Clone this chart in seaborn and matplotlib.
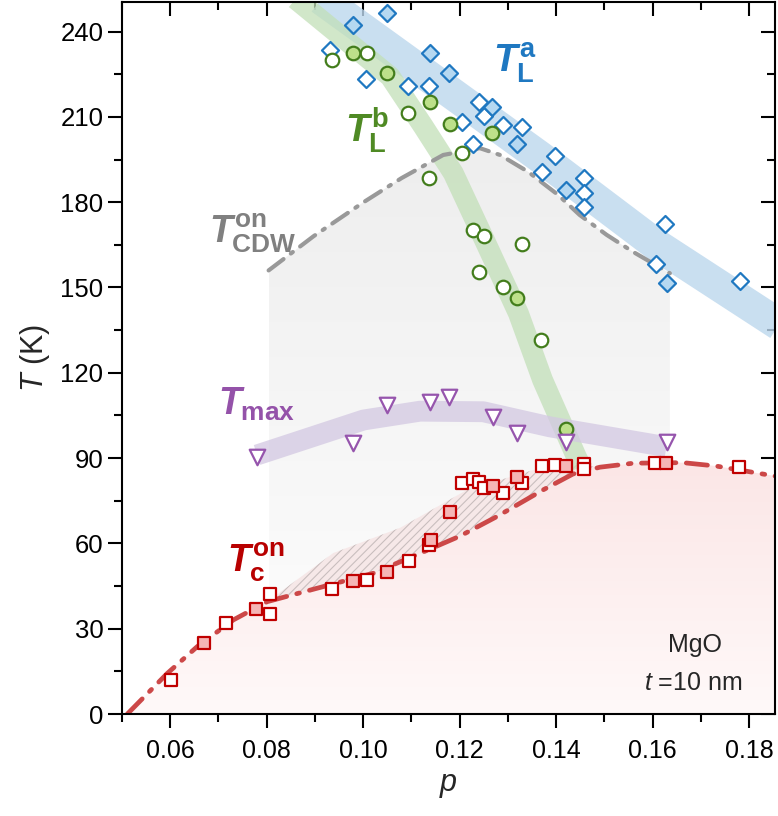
import matplotlib
matplotlib.use('Agg')

import numpy as np
import pandas as pd
import seaborn as sns
import matplotlib.pyplot as plt
from matplotlib.colors import LinearSegmentedColormap
from matplotlib.patches import Polygon
from matplotlib.ticker import MultipleLocator

# --- values ---
# T_L^a (blue diamonds), filled = 1
tla_p = [0.1049, 0.0979, 0.0932, 0.1139, 0.1006, 0.1179, 0.1094, 0.1137, 0.1241,
         0.1268, 0.1251, 0.1204, 0.1290, 0.1329, 0.1320, 0.1227, 0.1398, 0.1370,
         0.1458, 0.1420, 0.1458, 0.1458, 0.1625, 0.1607, 0.1630, 0.1781]
tla_T = [246.5, 242.3, 233.6, 232.4, 223.4, 225.6, 220.9, 220.9, 215.4,
         213.6, 210.3, 208.3, 207.2, 206.6, 200.5, 200.5, 196.3, 190.5,
         188.4, 184.3, 183.2, 178.2, 172.2, 158.3, 151.5, 152.3]
tla_filled = [1, 1, 0, 1, 0, 1, 0, 0, 0,
              1, 0, 0, 0, 0, 1, 0, 0, 0,
              0, 1, 0, 0, 0, 0, 1, 0]

# T_L^b (green circles)
tlb_p = [0.0935, 0.0979, 0.1008, 0.1049, 0.1139, 0.1094, 0.1180, 0.1268, 0.1204,
         0.1137, 0.1227, 0.1251, 0.1329, 0.1240, 0.1289, 0.1320, 0.1369, 0.1420]
tlb_T = [230.0, 232.6, 232.4, 225.3, 215.4, 211.3, 207.5, 204.3, 197.2,
         188.4, 170.1, 168.2, 165.3, 155.4, 150.3, 146.2, 131.5, 100.1]
tlb_filled = [0, 1, 0, 1, 1, 0, 1, 1, 0,
              0, 0, 0, 0, 0, 0, 1, 0, 1]

# T_max (purple triangles)
tmax_p = [0.0780, 0.0979, 0.1049, 0.1139, 0.1179, 0.1270, 0.1319, 0.1420, 0.1631]
tmax_T = [90.5, 95.4, 108.7, 109.9, 111.6, 104.6, 98.7, 95.8, 95.8]

# T_c^on (red squares)
tc_p = [0.0602, 0.0669, 0.0716, 0.0778, 0.0806, 0.0806, 0.0935, 0.0980, 0.1008,
        0.1049, 0.1095, 0.1137, 0.1140, 0.1180, 0.1204, 0.1228, 0.1241, 0.1250,
        0.1270, 0.1289, 0.1319, 0.1329, 0.1370, 0.1398, 0.1420, 0.1458, 0.1458,
        0.1605, 0.1629, 0.1779]
tc_T = [12.0, 25.1, 32.1, 36.9, 42.2, 35.2, 44.0, 46.9, 47.1,
        50.1, 53.9, 59.5, 61.3, 71.2, 81.4, 82.6, 81.7, 79.4,
        80.2, 77.8, 83.3, 81.4, 87.2, 87.6, 87.2, 87.9, 86.1,
        88.4, 88.2, 86.8]
tc_filled = [0, 1, 0, 1, 0, 0, 0, 1, 0,
             1, 0, 0, 1, 1, 0, 0, 0, 0,
             1, 0, 1, 0, 0, 0, 1, 0, 0,
             0, 1, 0]

# guide lines
cdw_p = [0.0804, 0.0897, 0.1001, 0.1080, 0.1166, 0.1242, 0.1284, 0.1342, 0.1404,
         0.1449, 0.1505, 0.1559, 0.1636]
cdw_T = [156.0, 168.0, 180.0, 188.5, 196.6, 199.0, 196.6, 190.7, 182.6,
         175.5, 168.5, 162.6, 155.0]

tcl_p = [0.0511, 0.0594, 0.0656, 0.0731, 0.0801, 0.0904, 0.1021, 0.1118, 0.1200,
         0.1277, 0.1373, 0.1435, 0.1491, 0.1560, 0.1663, 0.1732, 0.1860]
tcl_T = [0.0, 14.3, 23.7, 33.1, 39.5, 44.2, 49.5, 56.5, 62.5,
         69.4, 78.8, 84.4, 86.8, 88.2, 88.4, 87.2, 83.5]

hatch_p = [0.0801, 0.0938, 0.1077, 0.1215, 0.1353, 0.1449, 0.1491]
hatch_T = [39.5, 56.6, 65.5, 78.8, 85.8, 87.6, 86.8]

# broad bands
band_a_p = [0.0880, 0.0917, 0.1366, 0.1608, 0.1880]
band_a_T = [256.0, 251.0, 196.0, 165.0, 135.0]
band_b_p = [0.0820, 0.0863, 0.1056, 0.1125, 0.1187, 0.1242, 0.1322, 0.1372, 0.1442, 0.1452]
band_b_T = [257.0, 251.0, 224.2, 206.6, 190.2, 170.2, 140.9, 117.5, 90.5, 87.0]
band_m_p = [0.0780, 0.1001, 0.1118, 0.1249, 0.1387, 0.1629]
band_m_T = [91.1, 103.4, 106.5, 106.3, 101.0, 94.0]

# --- style ---
sns.set_style('ticks')
plt.rcParams['font.family'] = ['Liberation Sans', 'DejaVu Sans']
plt.rcParams['mathtext.fontset'] = 'custom'
plt.rcParams['mathtext.it'] = 'Liberation Sans:italic:bold'
plt.rcParams['mathtext.rm'] = 'Liberation Sans:bold'
plt.rcParams['mathtext.bf'] = 'Liberation Sans:bold'
plt.rcParams['mathtext.sf'] = 'Liberation Sans:italic'
plt.rcParams['hatch.linewidth'] = 0.8

fig = plt.figure(figsize=(7.78, 8.16), dpi=100)
ax = fig.add_axes([122 / 778, 102 / 816, 653 / 778, 712 / 816])


def gradient_fill(xs, ys, c_top, c_bot, z):
    poly = Polygon(np.column_stack([xs, ys]), closed=True, facecolor='none', edgecolor='none')
    ax.add_patch(poly)
    cmap = LinearSegmentedColormap.from_list('g', [c_bot, c_top])
    grad = np.linspace(0, 1, 256).reshape(-1, 1)
    im = ax.imshow(grad, extent=[min(xs), max(xs), min(ys), max(ys)], origin='lower',
                   aspect='auto', cmap=cmap, zorder=z, interpolation='bilinear')
    im.set_clip_path(poly)


# gray CDW region, down to the Tc line
seg = [(p, t) for p, t in zip(tcl_p, tcl_T) if 0.0804 <= p <= 0.1636]
gx = cdw_p + [0.1636] + [p for p, _ in seg[::-1]] + [0.0804]
gy = cdw_T + [88.4] + [t for _, t in seg[::-1]] + [39.6]
gradient_fill(gx, gy, '#eeeeee', '#fbfbfb', 0.5)

# pink region below Tc line
px = tcl_p + [0.1860, 0.0511]
py = tcl_T + [0.0, 0.0]
gradient_fill(px, py, '#fbe6e6', '#fff9f9', 0.6)

# hatched region
seg2 = [(p, t) for p, t in zip(tcl_p, tcl_T) if 0.0801 <= p <= 0.1491]
hx = hatch_p + [p for p, _ in seg2[::-1]]
hy = hatch_T + [t for _, t in seg2[::-1]]
ax.add_patch(Polygon(np.column_stack([hx, hy]), closed=True, facecolor='#f6e8e8',
                     edgecolor='#c9bebe', hatch='////', linewidth=0, zorder=0.7))

# bands
ax.plot(band_a_p, band_a_T, color='#bcd7ed', lw=23, alpha=0.8, solid_capstyle='butt', zorder=1)
ax.plot(band_b_p, band_b_T, color='#c2dfb8', lw=15, alpha=0.75, solid_capstyle='butt', zorder=1.1)
ax.plot(band_m_p, band_m_T, color='#d3c8e2', lw=15, alpha=0.75, solid_capstyle='butt', zorder=1.2)

# dash-dot guides
ax.plot(cdw_p, cdw_T, color='#999999', lw=3, dashes=(4.5, 2.2, 0.6, 2.2),
        dash_capstyle='round', zorder=2)
ax.plot(tcl_p, tcl_T, color='#cc4848', lw=3.4, dashes=(4.5, 2.2, 0.6, 2.2),
        dash_capstyle='round', zorder=2)


def markers(p, T, filled, marker, s, edge, face, zorder):
    df = pd.DataFrame({'p': p, 'T': T, 'f': filled})
    for flag, fc in [(0, 'white'), (1, face)]:
        sub = df[df['f'] == flag]
        if len(sub):
            sns.scatterplot(data=sub, x='p', y='T', marker=marker, s=s, color=fc,
                            edgecolor=edge, linewidth=1.6, ax=ax, zorder=zorder)


markers(tla_p, tla_T, tla_filled, 'D', 75, '#1f78c1', '#b5d8f1', 3)
markers(tlb_p, tlb_T, tlb_filled, 'o', 95, '#437d1c', '#bde08a', 3.1)
markers(tmax_p, tmax_T, [0] * len(tmax_p), 'v', 125, '#9655ad', '#e8dcf0', 3.2)
markers(tc_p, tc_T, tc_filled, 's', 80, '#c00000', '#f5b5b5', 3.3)

# labels
ax.text(0.1269, 225.8, r'$T_{\mathrm{L}}^{\mathrm{a}}$', color='#1f78c1', fontsize=28, zorder=5)
ax.text(0.0962, 201.2, r'$T_{\mathrm{L}}^{\mathrm{b}}$', color='#4f8a24', fontsize=28, zorder=5)
ax.text(0.0680, 165.7, r'$T_{\mathrm{CDW}}^{\mathrm{on}}$', color='#808080', fontsize=27, zorder=5)
ax.text(0.0700, 105.2, r'$T_{\mathrm{max}}$', color='#9452a9', fontsize=27, zorder=5)
ax.text(0.0718, 50.0, r'$T_{\mathrm{c}}^{\mathrm{on}}$', color='#b80000', fontsize=27, zorder=5)

ax.text(0.877, 0.097, 'MgO', transform=ax.transAxes, ha='center', va='center', fontsize=18, zorder=5)
ax.text(0.874, 0.044, r'$\mathsf{t}$ =10 nm', transform=ax.transAxes, ha='center', va='center',
        fontsize=18, zorder=5)

# axes
ax.set_xlim(0.05, 0.1854)
ax.set_ylim(0, 250.4)
ax.xaxis.set_major_locator(MultipleLocator(0.02))
ax.xaxis.set_minor_locator(MultipleLocator(0.01))
ax.yaxis.set_major_locator(MultipleLocator(30))
ax.yaxis.set_minor_locator(MultipleLocator(15))
ax.set_xticks([0.06, 0.08, 0.10, 0.12, 0.14, 0.16, 0.18])
ax.set_xticklabels(['0.06', '0.08', '0.10', '0.12', '0.14', '0.16', '0.18'])
ax.tick_params(which='both', direction='out', width=1.5, colors='black')
ax.tick_params(axis='x', labelsize=18, pad=8)
ax.tick_params(axis='y', labelsize=18.5)
ax.tick_params(which='major', length=10)
ax.tick_params(which='minor', length=5.5)
ax.tick_params(which='both', top=True, right=True)
for side in ['top', 'right', 'bottom', 'left']:
    ax.spines[side].set_visible(True)
    ax.spines[side].set_linewidth(1.5)
    ax.spines[side].set_color('black')

# top/right ticks point inward
for t in ax.xaxis.get_major_ticks() + ax.xaxis.get_minor_ticks():
    t.tick2line.set_marker(matplotlib.lines.TICKDOWN)
for t in ax.yaxis.get_major_ticks() + ax.yaxis.get_minor_ticks():
    t.tick2line.set_marker(matplotlib.lines.TICKLEFT)

ax.set_xlabel(r'$\mathsf{p}$', fontsize=22, labelpad=5)
ax.set_ylabel(r'$\mathsf{T}$ (K)', fontsize=22, labelpad=6)

fig.savefig('out.png', dpi=100)
